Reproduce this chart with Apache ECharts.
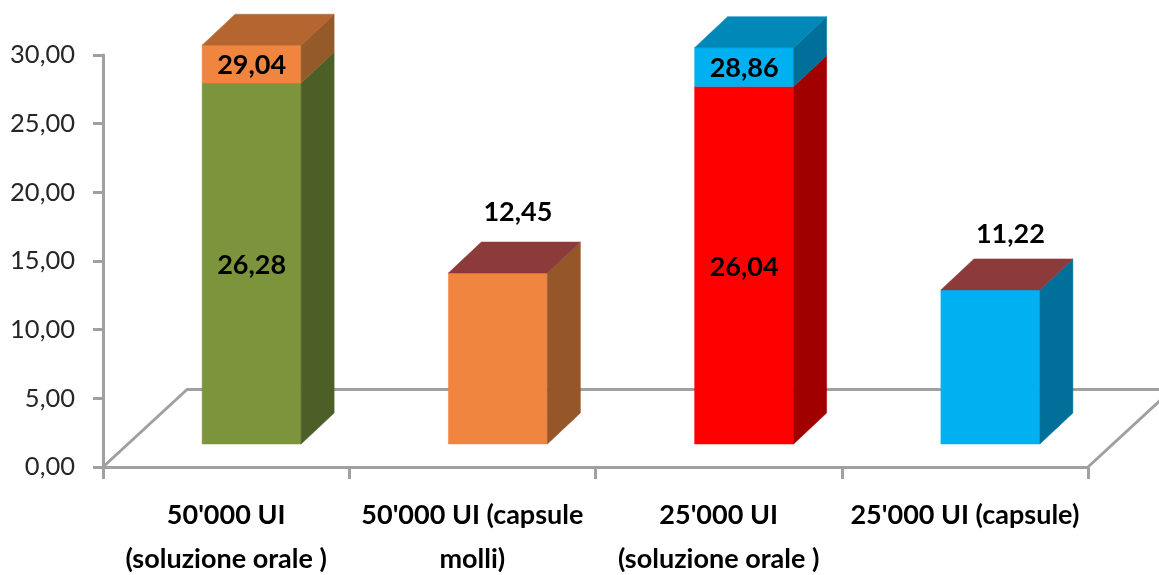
<!DOCTYPE html>
<html>
<head>
<meta charset="utf-8">
<style>html,body{margin:0;padding:0;background:#fff}#chart{width:1159px;height:575px}</style>
<script src="https://cdn.jsdelivr.net/npm/echarts@6/dist/echarts.min.js"></script>
</head>
<body>
<div id="chart"></div>
<script>
// Dosing groups on the category axis
const categories = ["50'000 UI\n(soluzione orale )", "50'000 UI (capsule\nmolli)", "25'000 UI\n(soluzione orale )", "25'000 UI (capsule)"];
// Height of the main block of each column
const baseValues = [26.28, 12.45, 26.04, 11.22];
// Height reached by the upper block, where a column has one
const peakValues = [29.04, null, 28.86, null];
const yTicks = { min: 0, max: 30, interval: 5 };

// Face colours per column: front / side / top
const palette = [
  { front: '#7C953C', side: '#4C5F27', top: '#B5652F', peakFront: '#F08540', peakSide: '#955A2A', lift: 0 },
  { front: '#F08540', side: '#95562A', top: '#8C3A3A', lift: 61 },
  { front: '#FF0000', side: '#A00000', top: '#0088B8', peakFront: '#00B0F0', peakSide: '#00709A', lift: 0 },
  { front: '#00B0F0', side: '#00709A', top: '#8C3A3A', lift: 56 }
];

const FONT = 'Lato, "Liberation Sans", sans-serif';
const FLOOR_COLOR = '#A0A0A0';
const DEPTH_X = 33, DEPTH_Y = 31;   // receding edge of a column
const FLOOR_RISE = 23;              // column foot sits above the axis line
const BAR_SHIFT = 25.5, BAR_W = 99; // column position inside its band
const fmt = v => v.toFixed(2).replace('.', ',');

function poly(points, fill, z2) {
  return { type: 'polygon', z2: z2 || 0, shape: { points }, style: { fill, stroke: fill, lineWidth: 0.5 } };
}
function label(x, y, v) {
  return { type: 'text', z2: 10, x, y, style: {
    text: fmt(v), font: 'bold 27px ' + FONT, fill: '#000', align: 'center', verticalAlign: 'middle' } };
}

function renderFloor(params, api) {
  const g = params.coordSys;
  const bottom = g.y + g.height, right = g.x + g.width;
  const backY = bottom - 77.5, runX = 84;
  const stroke = { stroke: FLOOR_COLOR, lineWidth: 3, fill: null, lineJoin: 'round' };
  return { type: 'group', children: [
    { type: 'polyline', shape: { points: [[g.x, bottom], [g.x + runX, backY], [right + runX, backY], [right, bottom]] }, style: stroke }
  ] };
}

function renderColumn(params, api) {
  const i = api.value(0);
  const s = palette[i];
  const cx = api.coord([i, 0])[0] + BAR_SHIFT;
  const l = cx - BAR_W / 2, r = cx + BAR_W / 2;
  const yOf = v => api.coord([i, v])[1] - FLOOR_RISE;
  const y0 = yOf(0), y1 = yOf(api.value(1));
  const peak = peakValues[i];
  const children = [
    poly([[l, y0], [r, y0], [r, y1], [l, y1]], s.front),
    poly([[r, y0], [r + DEPTH_X, y0 - DEPTH_Y], [r + DEPTH_X, y1 - DEPTH_Y], [r, y1]], s.side)
  ];
  let yTop = y1;
  if (peak != null) {
    yTop = yOf(peak);
    children.push(poly([[l, y1], [r, y1], [r, yTop], [l, yTop]], s.peakFront));
    children.push(poly([[r, y1], [r + DEPTH_X, y1 - DEPTH_Y], [r + DEPTH_X, yTop - DEPTH_Y], [r, yTop]], s.peakSide));
    children.push(label(cx, (y1 + yTop) / 2 + 1, peak));
    children.push(label(cx, (y0 + y1) / 2 + 2, api.value(1)));
  } else {
    children.push(label(cx + 20, y1 - s.lift, api.value(1)));
  }
  children.push(poly([[l, yTop], [r, yTop], [r + DEPTH_X, yTop - DEPTH_Y], [l + DEPTH_X, yTop - DEPTH_Y]], s.top));
  return { type: 'group', children };
}

const chart = echarts.init(document.getElementById('chart'), null, { renderer: 'canvas' });
chart.setOption({
  animation: false,
  backgroundColor: '#fff',
  grid: { left: 103, right: 71, top: 55, height: 412, containLabel: false, outerBoundsMode: 'none' },
  xAxis: {
    type: 'category',
    data: categories,
    axisLine: { lineStyle: { color: FLOOR_COLOR, width: 3 } },
    axisTick: { show: true, alignWithLabel: false, interval: 0, length: 12, lineStyle: { color: FLOOR_COLOR, width: 3 } },
    axisLabel: { interval: 0, margin: 26, fontFamily: FONT, fontWeight: 'bold', fontSize: 27, lineHeight: 44, color: '#000' }
  },
  yAxis: {
    type: 'value',
    min: yTicks.min, max: yTicks.max, interval: yTicks.interval,
    splitLine: { show: false },
    axisLine: { show: true, lineStyle: { color: FLOOR_COLOR, width: 3 } },
    axisTick: { show: true, length: 10, lineStyle: { color: FLOOR_COLOR, width: 3 } },
    axisLabel: { margin: 28, fontFamily: FONT, fontSize: 25.5, color: '#262626', formatter: fmt }
  },
  series: [
    { type: 'custom', z: 1, silent: true, renderItem: renderFloor, data: [[0]] },
    { type: 'custom', z: 3, silent: true, renderItem: renderColumn,
      data: baseValues.map((v, i) => [i, v]), encode: { x: 0, y: 1 } }
  ]
});
</script>
</body>
</html>
